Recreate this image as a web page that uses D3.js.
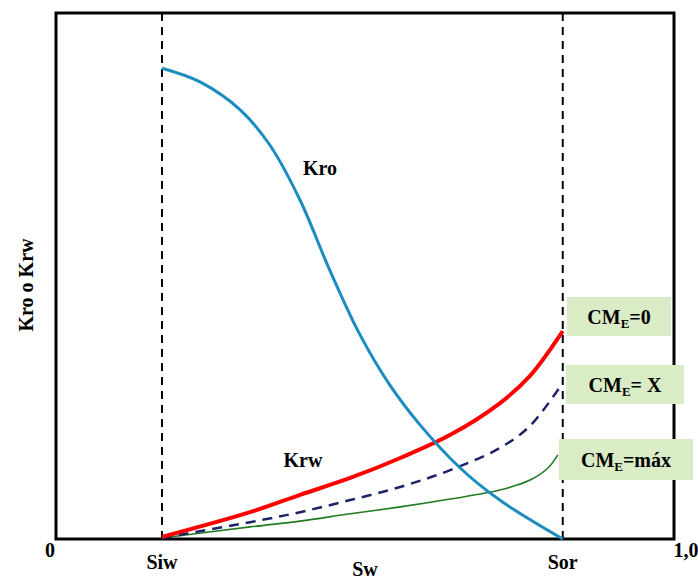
<!DOCTYPE html>
<html>
<head>
<meta charset="utf-8">
<script src="https://cdn.jsdelivr.net/npm/d3@7"></script>
<style>
  html, body { margin: 0; padding: 0; background: #fff; }
  svg { display: block; }
  text { font-family: "Liberation Serif", "Times New Roman", serif; font-weight: bold; fill: #000; }
</style>
</head>
<body>
<svg id="chart" width="698" height="579"></svg>
<script>
// Saturation end points
const swIrreducible = 0.1715;
const swResidualOil = 0.82;

// Oil relative permeability (Kro) vs water saturation
const kroSw = [0.1715, 0.233, 0.298, 0.346, 0.395, 0.443, 0.492, 0.540, 0.589, 0.654, 0.718, 0.82];
const kroVals = [0.895, 0.869, 0.816, 0.749, 0.644, 0.511, 0.388, 0.293, 0.217, 0.135, 0.074, 0.0];

// Water relative permeability (Krw) for three CM_E levels
const krwSw = [0.1715, 0.314, 0.395, 0.476, 0.557, 0.638, 0.718, 0.767, 0.82];
const krwZero = [0.004, 0.051, 0.084, 0.116, 0.154, 0.198, 0.258, 0.310, 0.395];
const krwX = [0.002, 0.032, 0.051, 0.074, 0.099, 0.131, 0.173, 0.215, 0.297];
const krwMaxSw = [0.1715, 0.314, 0.395, 0.476, 0.557, 0.638, 0.718, 0.767, 0.796, 0.812];
const krwMax = [0.002, 0.023, 0.034, 0.048, 0.061, 0.076, 0.093, 0.112, 0.135, 0.160];

// Axis tick labels
const xTickValues = [0, swIrreducible, swResidualOil, 1];
const xTickLabels = ["0", "Siw", "Sor", "1,0"];

// Legend entries: suffix after CM with subscript E
const legendSuffix = ["=0", "= X", "=máx"];

const svg = d3.select("#chart");
const x = d3.scaleLinear().domain([0, 1]).range([56, 674]);
const y = d3.scaleLinear().domain([0, 1]).range([539, 13]);

// Plot frame
svg.append("rect")
  .attr("x", x(0)).attr("y", y(1))
  .attr("width", x(1) - x(0)).attr("height", y(0) - y(1))
  .attr("fill", "none").attr("stroke", "#000").attr("stroke-width", 3);

// Dashed saturation limits
[swIrreducible, swResidualOil].forEach(s => {
  svg.append("line")
    .attr("x1", x(s)).attr("x2", x(s))
    .attr("y1", y(1)).attr("y2", y(0))
    .attr("stroke", "#000").attr("stroke-width", 2)
    .attr("stroke-dasharray", "8,6");
});

const line = d3.line().x(d => x(d[0])).y(d => y(d[1])).curve(d3.curveCatmullRom.alpha(0.5));
const zip = (a, b) => a.map((v, i) => [v, b[i]]);

// Krw curves
svg.append("path").attr("d", line(zip(krwMaxSw, krwMax)))
  .attr("fill", "none").attr("stroke", "#217a21").attr("stroke-width", 1.6);
svg.append("path").attr("d", line(zip(krwSw, krwX)))
  .attr("fill", "none").attr("stroke", "#1c2366").attr("stroke-width", 2.5)
  .attr("stroke-dasharray", "10,7");
svg.append("path").attr("d", line(zip(krwSw, krwZero)))
  .attr("fill", "none").attr("stroke", "#ff0000").attr("stroke-width", 4);

// Kro curve
svg.append("path").attr("d", line(zip(kroSw, kroVals)))
  .attr("fill", "none").attr("stroke", "#1a8cc0").attr("stroke-width", 3);

// Curve labels
svg.append("text").attr("x", 320).attr("y", 175).attr("text-anchor", "middle")
  .attr("font-size", 20).text("Kro");
svg.append("text").attr("x", 303).attr("y", 467).attr("text-anchor", "middle")
  .attr("font-size", 20).text("Krw");

// X tick labels
const xLabelY = [557, 569, 569, 557];
xTickValues.forEach((v, i) => {
  let px = x(v);
  if (i === 0) px = 50;
  if (i === 3) px = 686;
  svg.append("text").attr("x", px).attr("y", xLabelY[i])
    .attr("text-anchor", "middle").attr("font-size", 20).text(xTickLabels[i]);
});

// Axis titles
svg.append("text").attr("x", 365).attr("y", 576).attr("text-anchor", "middle")
  .attr("font-size", 20).text("Sw");
svg.append("text").attr("transform", "translate(33,285) rotate(-90)")
  .attr("text-anchor", "middle").attr("font-size", 20).text("Kro o Krw");

// Legend boxes
const boxes = [
  { x: 567, y: 297, w: 104, h: 39 },
  { x: 566, y: 365, w: 118, h: 39 },
  { x: 559, y: 439, w: 134, h: 41 }
];
boxes.forEach((b, i) => {
  svg.append("rect").attr("x", b.x).attr("y", b.y).attr("width", b.w).attr("height", b.h)
    .attr("fill", "#d9ecc5");
  const t = svg.append("text").attr("x", b.x + b.w / 2).attr("y", b.y + b.h / 2 + 7)
    .attr("text-anchor", "middle").attr("font-size", 20);
  t.append("tspan").text("CM");
  t.append("tspan").attr("font-size", 13).attr("dy", 4).text("E");
  t.append("tspan").attr("dy", -4).text(legendSuffix[i]);
});
</script>
</body>
</html>
